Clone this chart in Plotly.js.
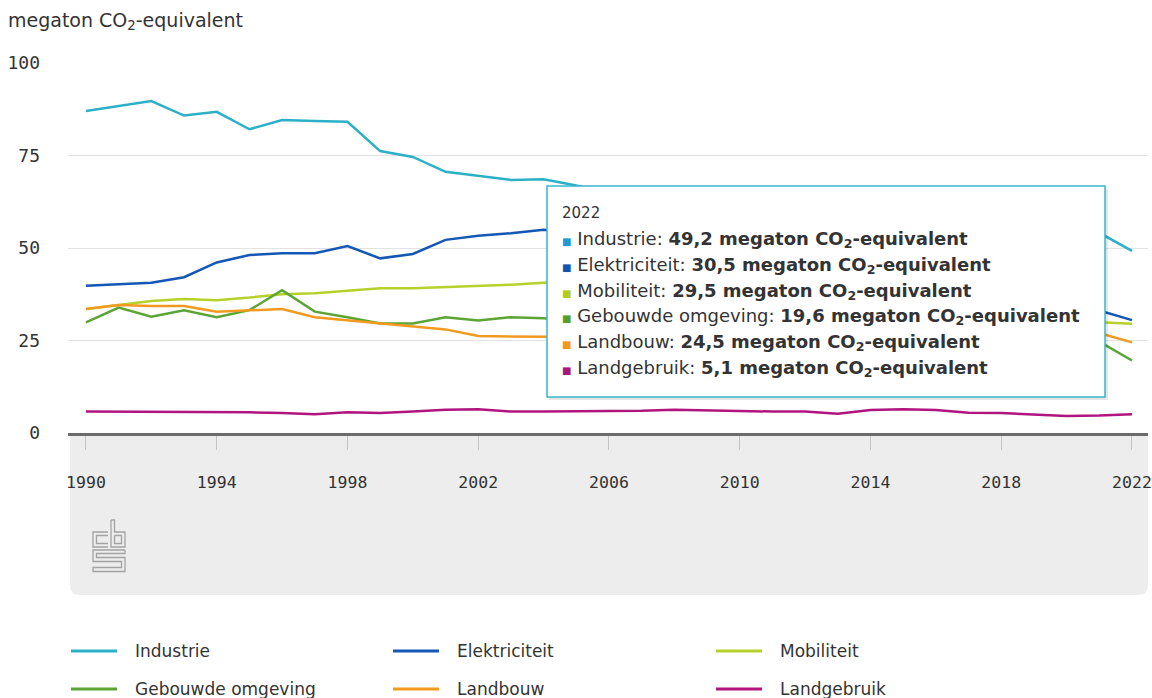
<!DOCTYPE html>
<html><head><meta charset="utf-8">
<script src="https://cdn.plot.ly/plotly-3.0.1.min.js"></script>
<style>html,body{margin:0;padding:0;background:#fff;} #chart{width:1152px;height:698px;}</style>
</head><body><div id="chart"></div>
<script>
// ---------------- data ----------------
const years = [1990,1991,1992,1993,1994,1995,1996,1997,1998,1999,2000,2001,2002,2003,2004,2005,2006,2007,2008,2009,2010,2011,2012,2013,2014,2015,2016,2017,2018,2019,2020,2021,2022];
const industrie     = [87.0,88.4,89.7,85.8,86.8,82.1,84.6,84.3,84.1,76.2,74.6,70.6,69.5,68.4,68.6,66.9,64.8,65.5,64.9,58.9,61.5,59.7,59.8,58.9,57.5,58.7,58.8,58.9,57.7,56.4,54.9,54.1,49.2];
const elektriciteit = [39.8,40.1,40.6,42.1,46.1,48.1,48.6,48.6,50.5,47.2,48.4,52.2,53.3,54.0,54.9,54.0,52.5,54.0,53.5,52.0,53.0,50.5,48.5,48.0,50.0,54.5,54.0,50.5,48.5,42.5,35.5,33.1,30.5];
const mobiliteit    = [33.5,34.6,35.7,36.2,35.9,36.6,37.5,37.8,38.4,39.1,39.1,39.4,39.7,40.1,40.6,41.0,41.3,42.0,41.6,40.6,40.5,39.6,38.2,36.8,35.6,35.5,35.8,35.6,35.8,35.4,30.5,29.9,29.5];
const gebouwd       = [29.9,33.9,31.4,33.2,31.3,33.2,38.6,32.8,31.3,29.6,29.6,31.3,30.4,31.3,31.0,30.2,29.3,26.9,29.2,28.7,32.6,26.6,28.2,29.3,23.2,24.9,25.5,25.0,24.8,24.6,23.4,24.7,19.6];
const landbouw      = [33.5,34.6,34.3,34.3,32.8,33.1,33.5,31.3,30.5,29.6,28.7,28.0,26.2,26.0,26.0,26.2,26.0,26.2,26.9,26.5,27.0,26.2,26.2,26.4,26.2,26.8,27.4,27.0,26.5,26.4,26.0,27.0,24.5];
const landgebruik   = [5.8,5.8,5.7,5.8,5.8,5.6,5.4,5.1,5.6,5.4,5.8,6.3,6.4,5.8,5.8,5.8,5.8,6.0,6.3,6.1,5.8,5.8,5.8,5.2,6.2,6.4,6.2,5.5,5.4,4.9,4.6,4.7,5.1];

const seriesNames = ['Industrie','Elektriciteit','Mobiliteit','Gebouwde omgeving','Landbouw','Landgebruik'];
const seriesValues = [industrie, elektriciteit, mobiliteit, gebouwd, landbouw, landgebruik];
const lineColors = ['#2cb0c8','#1457b5','#b7d12a','#5aa536','#f29a1f','#b0157f'];
const markColors = ['#1f98d6','#1553b0','#b3cc1c','#55a02b','#f3981a','#a8177a'];
const xTickVals = [1990,1994,1998,2002,2006,2010,2014,2018,2022];
const yTickVals = [0,25,50,75,100];
const unitText = 'megaton CO<sub>2</sub>-equivalent';
const hoverYear = '2022';

// ---------------- layout helpers (pixels -> paper) ----------------
const W = 1152, H = 698, L = 68, R = 1148, T = 63, B = 433;
const px = p => (p - L) / (R - L);
const py = p => (B - p) / (B - T);
const FONT = 'DejaVu Sans, sans-serif';
const MONO = 'DejaVu Sans Mono, monospace';
const TXT = '#333333';

const traces = seriesNames.map((n, i) => ({
  type: 'scatter', mode: 'lines', name: n, x: years, y: seriesValues[i],
  line: {color: lineColors[i], width: 2.5}, hoverinfo: 'skip', showlegend: false
}));

const shapes = [];
const annotations = [];

// grey box under the axis with rounded bottom corners
(function(){
  const x0 = 70, x1 = 1148, y0 = 433, y1 = 595, r = 10;
  const P = (a, b) => px(a) + ',' + py(b);
  shapes.push({type: 'path', xref: 'paper', yref: 'paper', layer: 'below',
    path: 'M' + P(x0, y0) + ' L' + P(x1, y0) + ' L' + P(x1, y1 - r) + ' Q' + P(x1, y1) + ' ' + P(x1 - r, y1) +
          ' L' + P(x0 + r, y1) + ' Q' + P(x0, y1) + ' ' + P(x0, y1 - r) + ' Z',
    fillcolor: '#ededed', line: {width: 0}});
  // cbs logo (outline glyphs)
  const logo = [
    [[108,532],[93,532],[93,547],[108,547]],
    [[108,535.5],[96.5,535.5],[96.5,543.5],[108,543.5]],
    [[111,520],[111,547],[125,547],[125,532],[114.5,532],[114.5,520],[111,520]],
    [[114.5,535.5],[121.5,535.5],[121.5,543.5],[114.5,543.5],[114.5,535.5]],
    [[125,550],[93,550],[93,561.5],[121.5,561.5],[121.5,567.5],[93,567.5],[93,571.5],[125,571.5],[125,557.5],[96.5,557.5],[96.5,553.5],[125,553.5],[125,550]]
  ];
  logo.forEach(pts => {
    shapes.push({type: 'path', xref: 'paper', yref: 'paper', layer: 'below',
      path: 'M' + pts.map(p => px(p[0]) + ',' + py(p[1])).join(' L'),
      line: {color: '#a3a3a3', width: 1.3}, fillcolor: 'rgba(0,0,0,0)'});
  });
})();

// helper for fixed-size left-aligned text boxes
function label(xPix, yPix, text, size, w, h) {
  return {xref: 'paper', yref: 'paper', x: px(xPix), y: py(yPix), xanchor: 'left', yanchor: 'middle',
    width: w, height: h, align: 'left', valign: 'middle', borderpad: 0,
    text: text, showarrow: false, font: {family: FONT, size: size, color: TXT}};
}

// tooltip box
const tb = {x0: 547, x1: 1105, y0: 186, y1: 397};
shapes.push({type: 'rect', xref: 'paper', yref: 'paper', layer: 'above',
  x0: px(tb.x0 + 2), x1: px(tb.x1 + 3), y0: py(tb.y0 + 3), y1: py(tb.y1 + 3),
  fillcolor: 'rgba(0,0,0,0.10)', line: {width: 0}});
shapes.push({type: 'rect', xref: 'paper', yref: 'paper', layer: 'above',
  x0: px(tb.x0), x1: px(tb.x1), y0: py(tb.y0), y1: py(tb.y1),
  fillcolor: '#ffffff', line: {color: '#39b6cb', width: 1.5}});
annotations.push(label(561, 213, hoverYear, 15, 60, 22));
seriesNames.forEach((n, i) => {
  const v = seriesValues[i][seriesValues[i].length - 1].toFixed(1).replace('.', ',');
  annotations.push(label(561, 239.5 + i * 25.8,
    '<span style="color:' + markColors[i] + ';font-size:10px">■</span> ' + n + ': <b>' + v + ' ' + unitText + '</b>',
    18, 536, 25));
});

// y-axis unit title
annotations.push(label(7, 21, unitText, 19, 260, 28));

// legend (3 columns x 2 rows)
const legCols = [71, 393, 716];
const legRows = [651, 689];
seriesNames.forEach((n, i) => {
  const cx = legCols[i % 3], cy = legRows[Math.floor(i / 3)];
  shapes.push({type: 'line', xref: 'paper', yref: 'paper', x0: px(cx), x1: px(cx + 46), y0: py(cy), y1: py(cy),
    line: {color: lineColors[i], width: 3}});
  annotations.push(label(cx + 63, cy, n, 17, 220, 24));
});

const layout = {
  width: W, height: H,
  font: {family: FONT, size: 17, color: TXT},
  margin: {l: L, r: W - R, t: T, b: H - B, pad: 0},
  paper_bgcolor: '#ffffff', plot_bgcolor: 'rgba(0,0,0,0)',
  showlegend: false,
  xaxis: {range: [1989.45, 2022.49], tickvals: xTickVals, ticktext: xTickVals.map(String),
    ticks: 'outside', ticklen: 14, tickwidth: 1, tickcolor: '#c4c4c4',
    showline: true, linecolor: '#6b6b6b', linewidth: 3, showgrid: false, zeroline: false,
    ticklabeloverflow: 'allow', automargin: false,
    ticklabelstandoff: 18, tickfont: {family: MONO, size: 16.5, color: TXT}, fixedrange: true},
  yaxis: {range: [0, 100], tickvals: yTickVals, ticktext: yTickVals.map(String),
    showgrid: true, gridcolor: '#e2e2e2', gridwidth: 1, zeroline: false, showline: false, automargin: false,
    ticks: '', ticklabelstandoff: 27, tickfont: {family: MONO, size: 18, color: TXT}, fixedrange: true},
  shapes: shapes, annotations: annotations,
  hovermode: false
};

Plotly.newPlot('chart', traces, layout, {staticPlot: true, displayModeBar: false});
</script></body></html>
